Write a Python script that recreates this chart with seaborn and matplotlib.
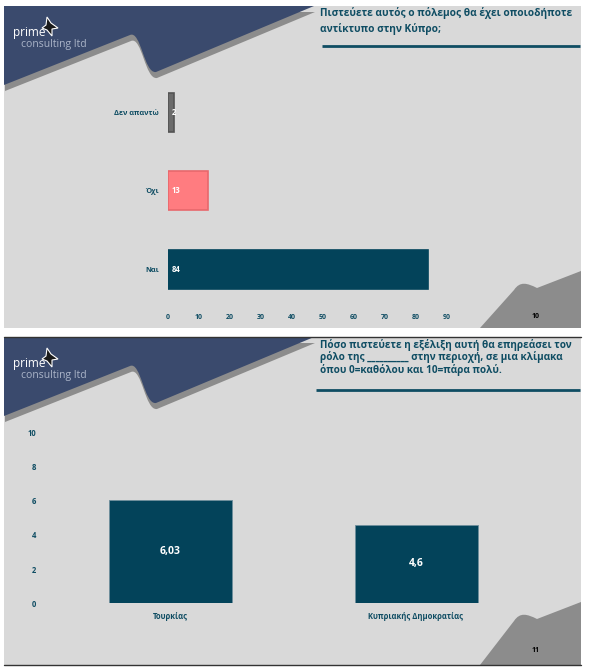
import matplotlib
matplotlib.use("Agg")
import matplotlib.pyplot as plt
from matplotlib.path import Path
from matplotlib.patches import PathPatch, Rectangle, Polygon
import seaborn as sns

# slide 10: horizontal bars
q1_title = "Πιστεύετε αυτός ο πόλεμος θα έχει οποιοδήποτε\nαντίκτυπο στην Κύπρο;"
q1_categories = ["Δεν απαντώ", "Όχι", "Ναι"]
q1_values = [2, 13, 84]
q1_colors = ["#6b6b6b", "#ff7c80", "#03435a"]
q1_edges = ["#545454", "#e8686c", "#03435a"]
q1_ticks = [0, 10, 20, 30, 40, 50, 60, 70, 80, 90]

# slide 11: vertical bars
q2_title = ("Πόσο πιστεύετε η εξέλιξη αυτή θα επηρεάσει τον\n"
            "ρόλο της __________ στην περιοχή, σε μια κλίμακα\n"
            "όπου 0=καθόλου και 10=πάρα πολύ.")
q2_categories = ["Τουρκίας", "Κυπριακής Δημοκρατίας"]
q2_values = [6.03, 4.6]
q2_ticks = [0, 2, 4, 6, 8, 10]

NAVY = "#3a4a6d"
STRIPE = "#8c8c8c"
SLIDE = "#d9d9d9"
TEAL = "#0f4d63"
BAR = "#03435a"

sns.set_theme(style="white")
plt.rcParams["font.family"] = ["Open Sans", "DejaVu Sans"]

W, H = 600, 672
fig = plt.figure(figsize=(6, 6.72), dpi=100)
fig.patch.set_facecolor("white")

bg = fig.add_axes([0, 0, 1, 1])
bg.set_xlim(0, W)
bg.set_ylim(H, 0)
bg.axis("off")


def header_path(dx, dy):
    verts = [(4, 85), (130, 35), (141, 30), (144, 74), (156, 72),
             (314, 6), (4, 6), (4, 85)]
    codes = [Path.MOVETO, Path.LINETO, Path.CURVE4, Path.CURVE4, Path.CURVE4,
             Path.LINETO, Path.LINETO, Path.CLOSEPOLY]
    return Path([(x + dx, y + dy) for x, y in verts], codes)


def corner_path(dy, bottom):
    verts = [(480, bottom), (514, 290), (520, 281), (527, 283), (537, 288),
             (581, 271 + dy), (581, bottom), (480, bottom)]
    verts = [(x, y + dy) if i in (1, 2, 3, 4) else (x, y) for i, (x, y) in enumerate(verts)]
    codes = [Path.MOVETO, Path.LINETO, Path.CURVE4, Path.CURVE4, Path.CURVE4,
             Path.LINETO, Path.LINETO, Path.CLOSEPOLY]
    return Path(verts, codes)


def draw_slide(top, bottom, page, title, title_lines_y, rule_y, rule_x0, title_size):
    dy = top - 6
    bg.add_patch(Rectangle((4, top), 577, bottom - top, facecolor=SLIDE, edgecolor="none"))
    bg.add_patch(PathPatch(header_path(1, dy + 6), facecolor=STRIPE, edgecolor="none"))
    bg.add_patch(Rectangle((4, top), 8, 20, facecolor=NAVY, edgecolor="none"))
    bg.add_patch(PathPatch(header_path(0, dy), facecolor=NAVY, edgecolor="none"))
    bg.add_patch(PathPatch(corner_path(dy, bottom), facecolor=STRIPE, edgecolor="none"))
    # logo
    star = [(47, 17), (51, 23), (58, 28), (52, 29), (52, 36), (47, 30), (42, 28), (46, 25)]
    bg.add_patch(Polygon([(x, y + dy) for x, y in star], closed=True,
                         facecolor="#1a1a1a", edgecolor="white", linewidth=0.8))
    bg.text(13, 36 + dy, "prime", color="white", fontsize=8.5, va="baseline")
    bg.text(21, 47 + dy, "consulting ltd", color="#aab4c8", fontsize=7.5, va="baseline")
    # title
    for line, ty in zip(title.split("\n"), title_lines_y):
        bg.text(320, ty, line, color=TEAL, fontsize=title_size, fontweight="bold", va="center")
    bg.plot([rule_x0, 580], [rule_y, rule_y], color=TEAL, linewidth=2, solid_capstyle="butt")
    bg.text(536, page[1], page[0], color="black", fontsize=5, fontweight="bold",
            ha="center", va="center")


draw_slide(6, 328, ("10", 316), q1_title, [13, 29], 46, 322, 7.3)
draw_slide(337, 665, ("11", 650), q2_title, [345, 357, 369.5], 390, 316, 7.2)
bg.plot([4, 581], [337, 337], color="#333333", linewidth=1)
bg.plot([4, 581], [665, 665], color="#333333", linewidth=1)


def px_axes(x0, y0, x1, y1):
    return fig.add_axes([x0 / W, 1 - y1 / H, (x1 - x0) / W, (y1 - y0) / H])


# chart 1
ax1 = px_axes(167.5, 73, 446.5, 308.5)
sns.barplot(x=q1_values, y=q1_categories, hue=q1_categories, palette=q1_colors,
            order=q1_categories, width=0.5, legend=False, orient="h", ax=ax1,
            linewidth=1.2, saturation=1)
for bar, ec in zip(ax1.patches, q1_edges):
    bar.set_edgecolor(ec)
for i, v in enumerate(q1_values):
    ax1.annotate(str(v), xy=(0, i), xytext=(3, 0), textcoords="offset points",
                 color="white", fontsize=5.5, fontweight="bold", va="center", ha="left")
ax1.set_xlim(0, 90)
ax1.set_xticks(q1_ticks)
ax1.set_xlabel("")
ax1.set_ylabel("")
ax1.tick_params(axis="x", labelsize=5, labelcolor=TEAL, length=0, pad=4)
ax1.tick_params(axis="y", labelsize=5.3, labelcolor=TEAL, length=0, pad=6)
for lab in ax1.get_xticklabels() + ax1.get_yticklabels():
    lab.set_fontweight("bold")

# chart 2
ax2 = px_axes(47, 432.3, 539, 603.3)
sns.barplot(x=q2_categories, y=q2_values, color=BAR, width=0.5, ax=ax2,
            edgecolor="#6f8f9c", linewidth=0.6, saturation=1)
ax2.bar_label(ax2.containers[0], labels=[f"{v:g}".replace(".", ",") for v in q2_values],
              label_type="center", color="white", fontsize=7.5, fontweight="bold")
ax2.set_ylim(0, 10)
ax2.set_yticks(q2_ticks)
ax2.set_xlabel("")
ax2.set_ylabel("")
ax2.tick_params(axis="x", labelsize=5.5, labelcolor=TEAL, length=0, pad=6)
ax2.tick_params(axis="y", labelsize=5.5, labelcolor=TEAL, length=0, pad=8)
for lab in ax2.get_xticklabels() + ax2.get_yticklabels():
    lab.set_fontweight("bold")

for ax in (ax1, ax2):
    ax.set_facecolor("none")
    sns.despine(ax=ax, left=True, bottom=True)
    ax.grid(False)

fig.savefig("out.png", dpi=100, facecolor="white")
